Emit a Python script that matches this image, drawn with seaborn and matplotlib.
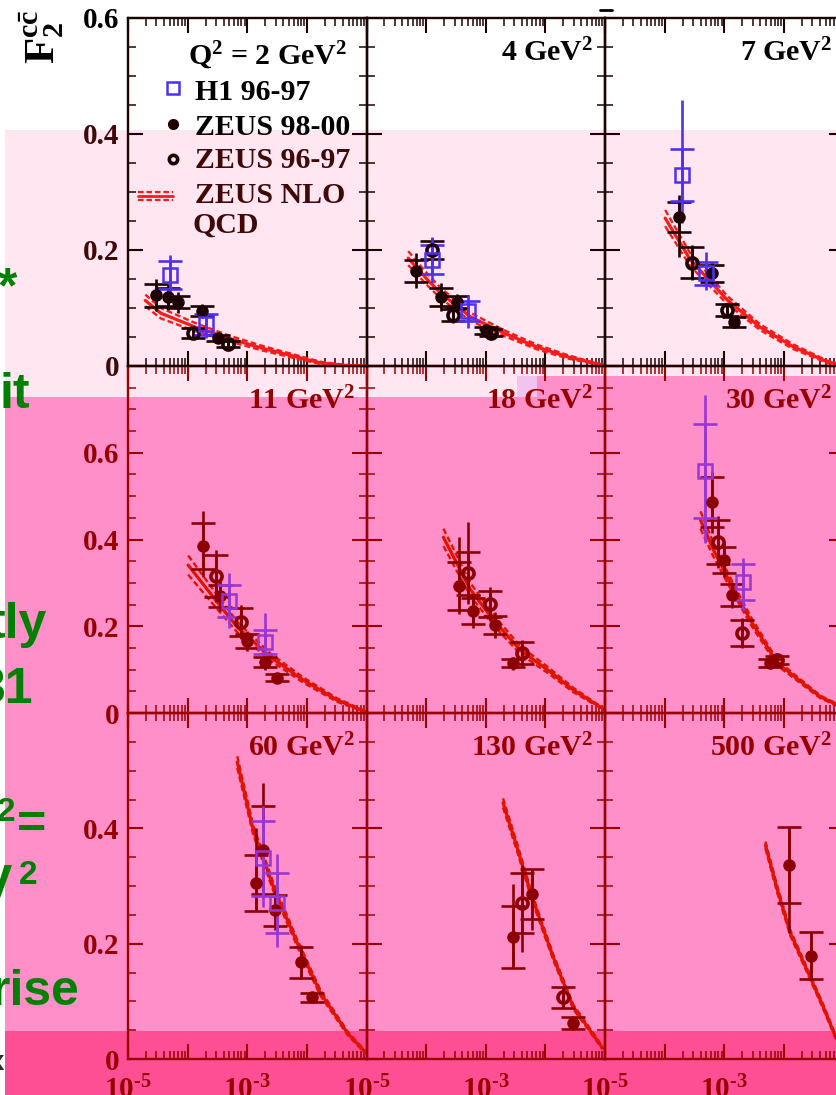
import numpy as np
import pandas as pd
import matplotlib
matplotlib.use("Agg")
import matplotlib.pyplot as plt
import matplotlib.ticker as mticker
from matplotlib.patches import Rectangle
from matplotlib.lines import Line2D
import seaborn as sns

# ---------------------------------------------------------------- data
Q2_VALUES = [2, 4, 7, 11, 18, 30, 60, 130, 500]
Y_MAX = {2: 0.6, 4: 0.6, 7: 0.6, 11: 0.8, 18: 0.8, 30: 0.8, 60: 0.6, 130: 0.6, 500: 0.6}
X_RANGE = (1e-5, 1e-1)

# H1 96-97 (open squares)
H1_X = {2: [5.1e-5, 2.0e-4], 4: [1.26e-4, 5.1e-4], 7: [1.95e-4, 5.0e-4],
        11: [5.0e-4, 2.0e-3], 30: [4.8e-4, 2.1e-3], 60: [1.86e-3, 3.2e-3]}
H1_Y = {2: [0.157, 0.072], 4: [0.183, 0.095], 7: [0.329, 0.160],
        11: [0.258, 0.164], 30: [0.558, 0.302], 60: [0.348, 0.270]}
H1_STAT = {2: [0.024, 0.018], 4: [0.025, 0.017], 7: [0.045, 0.020],
           11: [0.037, 0.027], 30: [0.108, 0.042], 60: [0.065, 0.052]}
H1_TOT_UP = {2: [0.034, 0.028], 4: [0.039, 0.027], 7: [0.130, 0.037],
             11: [0.064, 0.066], 30: [0.175, 0.055], 60: [0.090, 0.085]}
H1_TOT_DN = {2: [0.043, 0.024], 4: [0.040, 0.029], 7: [0.082, 0.029],
             11: [0.062, 0.046], 30: [0.166, 0.065], 60: [0.085, 0.076]}

# ZEUS 98-00 (filled circles)
Z00_X = {2: [2.95e-5, 4.7e-5, 6.9e-5, 1.74e-4, 3.2e-4],
         4: [6.8e-5, 1.78e-4, 3.3e-4, 1.02e-3],
         7: [1.74e-4, 6.3e-4, 1.48e-3],
         11: [1.82e-4, 3.5e-4, 1.0e-3, 1.95e-3, 3.1e-3],
         18: [3.5e-4, 6.2e-4, 1.45e-3, 2.9e-3],
         30: [6.3e-4, 1.0e-3, 1.35e-3, 5.9e-3],
         60: [1.41e-3, 1.86e-3, 2.95e-3, 8.1e-3, 1.2e-2],
         130: [2.9e-3, 6.0e-3, 2.95e-2],
         500: [1.2e-2, 2.9e-2]}
Z00_Y = {2: [0.122, 0.119, 0.110, 0.095, 0.048],
         4: [0.164, 0.119, 0.110, 0.062],
         7: [0.257, 0.160, 0.076],
         11: [0.385, 0.270, 0.166, 0.118, 0.081],
         18: [0.293, 0.235, 0.203, 0.115],
         30: [0.486, 0.353, 0.272, 0.115],
         60: [0.305, 0.362, 0.258, 0.168, 0.107],
         130: [0.211, 0.286, 0.062],
         500: [0.336, 0.179]}
Z00_STAT = {2: [0.020, 0.015, 0.010, 0.008, 0.005],
            4: [0.019, 0.015, 0.010, 0.006],
            7: [0.026, 0.015, 0.008],
            11: [0.054, 0.025, 0.015, 0.012, 0.008],
            18: [0.055, 0.030, 0.020, 0.010],
            30: [0.058, 0.030, 0.025, 0.010],
            60: [0.048, 0.076, 0.027, 0.027, 0.008],
            130: [0.054, 0.043, 0.010],
            500: [0.066, 0.041]}
Z00_TOT_UP = {2: [0.028, 0.022, 0.018, 0.012, 0.008],
              4: [0.030, 0.024, 0.015, 0.009],
              7: [0.038, 0.020, 0.010],
              11: [0.080, 0.035, 0.022, 0.018, 0.012],
              18: [0.113, 0.040, 0.030, 0.015],
              30: [0.070, 0.040, 0.030, 0.012],
              60: [0.095, 0.116, 0.035, 0.030, 0.010],
              130: [0.092, 0.043, 0.012],
              500: [0.066, 0.042]}
Z00_TOT_DN = {2: [0.028, 0.022, 0.018, 0.012, 0.008],
              4: [0.030, 0.024, 0.015, 0.009],
              7: [0.069, 0.020, 0.010],
              11: [0.072, 0.035, 0.022, 0.018, 0.012],
              18: [0.065, 0.040, 0.030, 0.015],
              30: [0.070, 0.040, 0.030, 0.012],
              60: [0.048, 0.078, 0.035, 0.030, 0.010],
              130: [0.053, 0.062, 0.012],
              500: [0.118, 0.042]}

# ZEUS 96-97 (open circles)
Z97_X = {2: [1.23e-4, 4.8e-4], 4: [1.26e-4, 2.8e-4, 1.23e-3], 7: [2.9e-4, 1.12e-3],
         11: [3.0e-4, 7.9e-4], 18: [5.1e-4, 1.2e-3, 4.1e-3], 30: [7.9e-4, 2.0e-3, 7.8e-3],
         130: [4.0e-3, 2.0e-2]}
Z97_Y = {2: [0.057, 0.038], 4: [0.200, 0.088, 0.057], 7: [0.178, 0.097],
         11: [0.316, 0.210], 18: [0.322, 0.251, 0.138], 30: [0.394, 0.184, 0.122],
         130: [0.270, 0.107]}
Z97_STAT = {2: [0.008, 0.005], 4: [0.015, 0.010, 0.006], 7: [0.027, 0.010],
            11: [0.048, 0.032], 18: [0.050, 0.030, 0.025], 30: [0.050, 0.030, 0.010],
            130: [0.052, 0.018]}
Z97_TOT_UP = {2: [0.010, 0.007], 4: [0.020, 0.014, 0.009], 7: [0.030, 0.012],
              11: [0.060, 0.040], 18: [0.118, 0.040, 0.030], 30: [0.060, 0.035, 0.012],
              130: [0.066, 0.018]}
Z97_TOT_DN = {2: [0.010, 0.007], 4: [0.020, 0.014, 0.009], 7: [0.030, 0.012],
              11: [0.060, 0.040], 18: [0.070, 0.040, 0.030], 30: [0.060, 0.035, 0.012],
              130: [0.085, 0.018]}

# ZEUS NLO QCD prediction: central value and half-width of the band
QCD_X = {2: [1.95e-5, 3.55e-5, 1.35e-4, 4.8e-4, 1.74e-3, 6.5e-3, 1.74e-2, 4.5e-2, 1.0e-1],
         4: [5.0e-5, 1.07e-4, 1.74e-4, 5.5e-4, 2.0e-3, 7.1e-3, 2.34e-2, 6.5e-2, 1.0e-1],
         7: [1.02e-4, 2.7e-4, 1.12e-3, 3.98e-3, 1.45e-2, 5.4e-2, 1.0e-1],
         11: [1.02e-4, 2.7e-4, 6.8e-4, 2.45e-3, 8.7e-3, 3.2e-2, 1.0e-1],
         18: [1.95e-4, 5.5e-4, 1.35e-3, 3.8e-3, 1.1e-2, 2.95e-2, 8.3e-2, 1.0e-1],
         30: [4.0e-4, 6.6e-4, 1.26e-3, 2.75e-3, 7.8e-3, 4.1e-2, 1.0e-1],
         60: [6.8e-4, 1.26e-3, 2.75e-3, 6.9e-3, 1.7e-2, 4.8e-2, 9.5e-2],
         130: [1.95e-3, 3.4e-3, 6.0e-3, 1.35e-2, 2.95e-2, 5.6e-2, 9.1e-2],
         500: [4.9e-3, 7.8e-3, 1.29e-2, 2.45e-2, 4.6e-2, 7.4e-2, 1.0e-1]}
QCD_Y = {2: [0.113, 0.091, 0.067, 0.048, 0.031, 0.016, 0.005, 0.001, 0.0],
         4: [0.186, 0.148, 0.126, 0.085, 0.057, 0.033, 0.016, 0.005, 0.001],
         7: [0.255, 0.183, 0.114, 0.067, 0.033, 0.007, 0.001],
         11: [0.341, 0.267, 0.198, 0.129, 0.076, 0.030, 0.002],
         18: [0.405, 0.285, 0.214, 0.145, 0.099, 0.053, 0.014, 0.008],
         30: [0.445, 0.376, 0.300, 0.214, 0.115, 0.037, 0.012],
         60: [0.515, 0.397, 0.298, 0.201, 0.114, 0.045, 0.012],
         130: [0.444, 0.365, 0.280, 0.177, 0.090, 0.050, 0.019],
         500: [0.371, 0.293, 0.218, 0.154, 0.090, 0.038, 0.015]}
QCD_BAND = {2: [0.010, 0.009, 0.007, 0.005, 0.004, 0.003, 0.002, 0.001, 0.0],
            4: [0.012, 0.010, 0.009, 0.007, 0.005, 0.004, 0.003, 0.001, 0.0],
            7: [0.014, 0.011, 0.007, 0.005, 0.004, 0.002, 0.001],
            11: [0.022, 0.017, 0.012, 0.008, 0.006, 0.004, 0.001],
            18: [0.020, 0.015, 0.012, 0.009, 0.007, 0.005, 0.002, 0.002],
            30: [0.020, 0.016, 0.012, 0.009, 0.006, 0.003, 0.002],
            60: [0.010, 0.008, 0.007, 0.006, 0.005, 0.003, 0.002],
            130: [0.008, 0.007, 0.006, 0.005, 0.004, 0.003, 0.002],
            500: [0.006, 0.006, 0.005, 0.004, 0.004, 0.003, 0.002]}

LEGEND_LABELS = ["H1 96-97", "ZEUS 98-00", "ZEUS 96-97", "ZEUS NLO", "QCD"]
SIDE_TEXT = ["*", "it", "tly", "31", "=", "V", "rise"]

# ---------------------------------------------------------------- style
sns.set_theme(style="ticks")
plt.rcParams["font.family"] = ["Liberation Serif", "DejaVu Serif"]
plt.rcParams["font.weight"] = "bold"
plt.rcParams["mathtext.fontset"] = "custom"
plt.rcParams["mathtext.rm"] = "Liberation Serif:bold"
plt.rcParams["mathtext.it"] = "Liberation Serif:bold"
plt.rcParams["mathtext.bf"] = "Liberation Serif:bold"
plt.rcParams["mathtext.default"] = "rm"

W, H = 836, 1095
fig = plt.figure(figsize=(W / 100, H / 100), dpi=100)
fig.patch.set_facecolor("white")

COL_LEFT = [128, 366.5, 605]
COL_W = 238.5
ROW_TOP = [18, 366, 713]
ROW_BOTTOM = [366, 713, 1059]

LIGHT_PINK = "#ffe6f0"
MID_PINK = "#ff8fc8"
DARK_PINK = "#ff4f94"
LAVENDER = "#f3c2ee"
GREEN = "#008000"

ROW_STYLE = [
    dict(axis="#1c0303", label="#3f0909", zeus="#1e0000", h1="#5030f0", qcd="#ff1a1a"),
    dict(axis="#980303", label="#960000", zeus="#8c0000", h1="#9a35d5", qcd="#e01200"),
    dict(axis="#980303", label="#960000", zeus="#8c0000", h1="#9a35d5", qcd="#e01200"),
]

MS_H1, MS_Z00, MS_Z97 = 9.5, 8.0, 8.0
MEW_H1, MEW_Z97 = 1.8, 2.6


def fx(px):
    return px / W


def fy(py):
    return 1 - py / H


def add_block(x0, y0, x1, y1, color):
    fig.add_artist(Rectangle((fx(x0), fy(y1)), fx(x1) - fx(x0), fy(y0) - fy(y1),
                             transform=fig.transFigure, facecolor=color,
                             edgecolor="none", zorder=-10))


# slide background blocks behind the plot
add_block(5, 130, 836, 397, LIGHT_PINK)
add_block(5, 397, 836, 1031, MID_PINK)
add_block(537, 376, 836, 397, MID_PINK)
add_block(517, 376, 537, 397, LAVENDER)
add_block(5, 1031, 836, 1095, DARK_PINK)


def draw_series(ax, x, y, stat, up, dn, marker, filled, color, ms, mew):
    x = np.asarray(x)
    y = np.asarray(y)
    ax.errorbar(x, y, yerr=[dn, up], fmt="none", ecolor=color, elinewidth=1.9,
                capsize=0, zorder=3)
    ax.errorbar(x, y, yerr=stat, fmt="none", ecolor=color, elinewidth=1.9,
                capsize=8.5, capthick=1.9, zorder=3)
    ax.plot(x, y, linestyle="none", marker=marker, ms=ms,
            mfc=color if filled else "none", mec=color, mew=mew, zorder=4)


def draw_qcd(ax, q, color):
    df = pd.DataFrame({"x": QCD_X[q], "y": QCD_Y[q], "b": QCD_BAND[q]})
    df["hi"] = df["y"] + df["b"]
    df["lo"] = (df["y"] - df["b"]).clip(lower=0)
    sns.lineplot(data=df, x="x", y="hi", ax=ax, color=color, lw=1.7,
                 linestyle=(0, (2.5, 1.3)), estimator=None, sort=False, zorder=2)
    sns.lineplot(data=df, x="x", y="lo", ax=ax, color=color, lw=1.7,
                 linestyle=(0, (2.5, 1.3)), estimator=None, sort=False, zorder=2)
    sns.lineplot(data=df, x="x", y="y", ax=ax, color=color, lw=2.3,
                 estimator=None, sort=False, zorder=2)


axes = []
for i, q in enumerate(Q2_VALUES):
    r, c = divmod(i, 3)
    st = ROW_STYLE[r]
    left, top, bottom = COL_LEFT[c], ROW_TOP[r], ROW_BOTTOM[r]
    ax = fig.add_axes([fx(left), fy(bottom), COL_W / W, (bottom - top) / H])
    ax.set_zorder(5 - r)
    ax.patch.set_visible(False)
    ax.set_xscale("log")
    ax.set_xlim(*X_RANGE)
    ymax = Y_MAX[q]
    ax.set_ylim(0, ymax)

    draw_qcd(ax, q, st["qcd"])
    if q in Z97_X:
        draw_series(ax, Z97_X[q], Z97_Y[q], Z97_STAT[q], Z97_TOT_UP[q], Z97_TOT_DN[q],
                    "o", False, st["zeus"], MS_Z97, MEW_Z97)
    if q in Z00_X:
        draw_series(ax, Z00_X[q], Z00_Y[q], Z00_STAT[q], Z00_TOT_UP[q], Z00_TOT_DN[q],
                    "o", True, st["zeus"], MS_Z00, 1.0)
    if q in H1_X:
        draw_series(ax, H1_X[q], H1_Y[q], H1_STAT[q], H1_TOT_UP[q], H1_TOT_DN[q],
                    "s", False, st["h1"], MS_H1, MEW_H1)

    ax.set_xlabel("")
    ax.set_ylabel("")

    # axes frame and ticks
    for sp in ax.spines.values():
        sp.set_visible(True)
        sp.set_color(st["axis"])
        sp.set_linewidth(1.7)
    ax.xaxis.set_major_locator(mticker.LogLocator(base=10, numticks=15))
    ax.xaxis.set_minor_locator(mticker.LogLocator(base=10, subs=np.arange(2, 10), numticks=15))
    ax.xaxis.set_minor_formatter(mticker.NullFormatter())

    def xfmt(v, pos):
        e = int(round(np.log10(v)))
        if e in (-5, -3):
            return r"$10^{\text{-}%d}$" % (-e)
        return ""

    def yfmt(v, pos, row=r, top_val=ymax):
        if row > 0 and abs(v - top_val) < 1e-6:
            return ""
        if abs(v) < 1e-9:
            return "0"
        return "%.1f" % v

    ax.xaxis.set_major_formatter(mticker.FuncFormatter(xfmt))
    ax.yaxis.set_major_locator(mticker.MultipleLocator(0.2))
    ax.yaxis.set_minor_locator(mticker.MultipleLocator(0.05))
    ax.yaxis.set_major_formatter(mticker.FuncFormatter(yfmt))

    ax.tick_params(which="major", direction="in", length=10.5, width=1.5,
                   top=True, right=True, colors=st["axis"], labelcolor=st["label"],
                   labelsize=21)
    ax.tick_params(which="minor", direction="in", length=5.5, width=1.1,
                   top=True, right=True, colors=st["axis"])
    ax.tick_params(axis="y", pad=6)
    ax.tick_params(axis="x", pad=12)
    ax.tick_params(labelbottom=(r == 2), labelleft=(c == 0))

    # panel label
    if q != 2:
        ax.text(1 - 11.5 / COL_W, 1 - 43 / (bottom - top), r"%d GeV$^{2}$" % q,
                transform=ax.transAxes, ha="right", va="baseline",
                fontsize=21.5, fontweight="bold", color=st["label"] if r else "black",
                zorder=6)
    axes.append(ax)

# legend of the first panel
ax0 = axes[0]
ph = ROW_BOTTOM[0] - ROW_TOP[0]


def ax0_xy(px, py):
    return (px - COL_LEFT[0]) / COL_W, (ROW_BOTTOM[0] - py) / ph


st0 = ROW_STYLE[0]
tx, ty = ax0_xy(347, 65)
ax0.text(tx, ty, r"Q$^{2}$ = 2 GeV$^{2}$", transform=ax0.transAxes, ha="right",
         va="baseline", fontsize=21.5, color="black")
legend_rows = [(88, 100, "s", False, st0["h1"], MS_H1, MEW_H1, "black"),
               (124, 135, "o", True, st0["zeus"], MS_Z00, 1.0, "black"),
               (159, 168, "o", False, st0["zeus"], MS_Z97 - 1, MEW_Z97, "#3f0909")]
for (cy, base, mk, filled, col, ms, mew, tcol), lab in zip(legend_rows, LEGEND_LABELS[:3]):
    mx, my = ax0_xy(173, cy)
    ax0.plot([mx], [my], transform=ax0.transAxes, linestyle="none", marker=mk, ms=ms - 1,
             mfc=col if filled else "none", mec=col, mew=mew, clip_on=False)
    lx, ly = ax0_xy(195, base)
    ax0.text(lx, ly, lab, transform=ax0.transAxes, ha="left", va="baseline",
             fontsize=21.5, color=tcol)
for dy, ls, lw in [(-4, (0, (2.5, 1.3)), 1.6), (0, "-", 2.0), (4, (0, (2.5, 1.3)), 1.6)]:
    x0, y0 = ax0_xy(138, 196 + dy)
    x1, _ = ax0_xy(173, 196 + dy)
    ax0.add_line(Line2D([x0, x1], [y0, y0], transform=ax0.transAxes, color=st0["qcd"],
                        lw=lw, linestyle=ls, clip_on=False))
lx, ly = ax0_xy(195, 203)
ax0.text(lx, ly, LEGEND_LABELS[3], transform=ax0.transAxes, ha="left", va="baseline",
         fontsize=21.5, color="#3f0909")
lx, ly = ax0_xy(192, 233)
ax0.text(lx, ly, LEGEND_LABELS[4], transform=ax0.transAxes, ha="left", va="baseline",
         fontsize=21.5, color="#3f0909")

# y-axis title
fig.text(fx(42), fy(37), r"$F_{2}^{c\bar{c}}$", rotation=90, ha="center", va="center",
         fontsize=31, color="black")

# first-row tick labels above the pink block stay black
fig.canvas.draw()
for ax in axes[:3]:
    for tk in ax.yaxis.get_major_ticks():
        if tk.get_loc() > 0.5:
            tk.label1.set_color("black")

# slide text at the left edge
side_kw = dict(ha="right", va="baseline", color=GREEN, fontsize=36, fontweight="bold",
               family=["Liberation Sans", "DejaVu Sans"], zorder=20)
sup_kw = dict(side_kw, fontsize=24)
fig.text(fx(17), fy(302), SIDE_TEXT[0], **side_kw)
fig.text(fx(30), fy(408), SIDE_TEXT[1], **side_kw)
fig.text(fx(47), fy(638), SIDE_TEXT[2], **side_kw)
fig.text(fx(33), fy(703), SIDE_TEXT[3], **side_kw)
fig.text(fx(15), fy(821), "2", **sup_kw)
fig.text(fx(46), fy(839), SIDE_TEXT[4], **side_kw)
fig.text(fx(12), fy(900), SIDE_TEXT[5], **side_kw)
fig.text(fx(37), fy(884), "2", **sup_kw)
fig.text(fx(80), fy(1005), SIDE_TEXT[6], **side_kw)
fig.text(fx(4), fy(1070), "x", ha="right", va="baseline", color="#2b2b2b", fontsize=20,
         family=["Liberation Sans", "DejaVu Sans"], zorder=20)
fig.add_artist(Line2D([fx(600), fx(612)], [fy(10), fy(10)], transform=fig.transFigure,
                      color="black", lw=2))

fig.savefig("out.png", dpi=100)
